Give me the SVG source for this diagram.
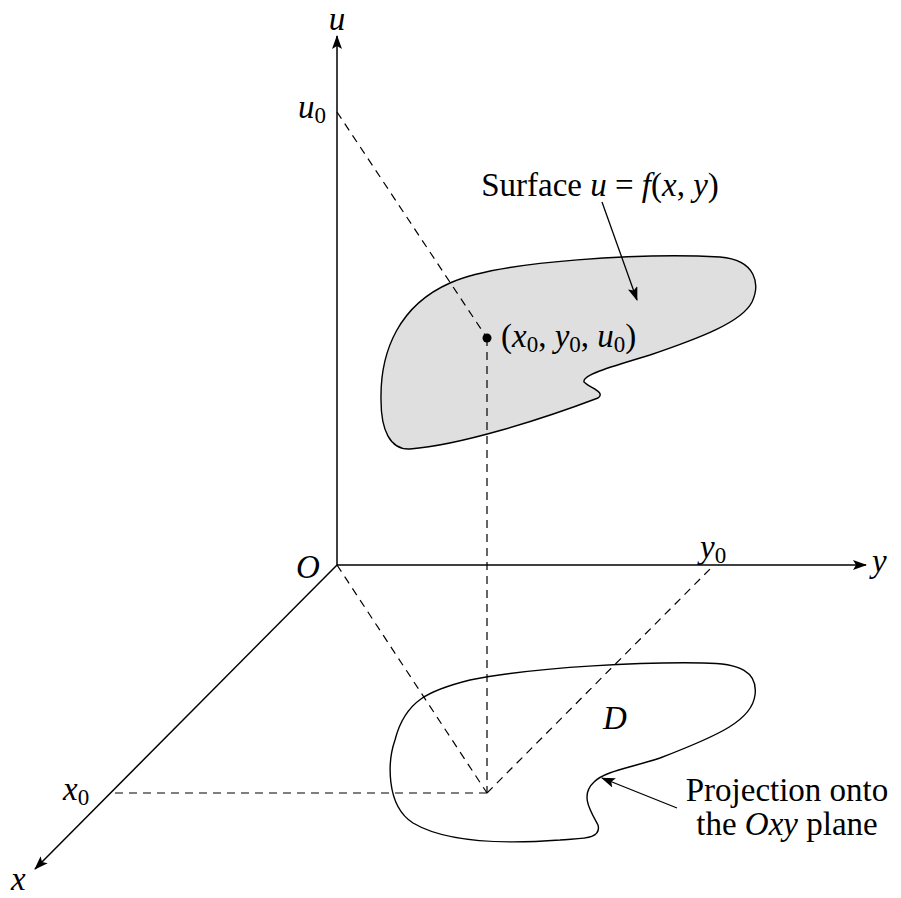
<svg xmlns="http://www.w3.org/2000/svg" width="901" height="898" viewBox="0 0 901 898">
<style>
text{font-family:"Liberation Serif","DejaVu Serif",serif;font-size:33px;fill:#000}
.m{font-style:italic}
.s{font-size:23px;font-style:normal}
.ax{stroke:#000;stroke-width:1.5;fill:none}
.ds{stroke:#000;stroke-width:1.2;fill:none;stroke-dasharray:8 6}
.ln{stroke:#000;stroke-width:1.3;fill:none}
.shape{stroke:#000;stroke-width:1.4}
</style>
<defs>
<marker id="ah" viewBox="0 0 14 10" refX="13" refY="5" markerWidth="14" markerHeight="10" markerUnits="userSpaceOnUse" orient="auto">
<path d="M0,0 L14,5 L0,10 L3,5 Z" fill="#000"/>
</marker>
</defs>
<rect width="901" height="898" fill="#fff"/>
<g id="surface">
<path class="shape" fill="#dfdfdf" d="M410 449 C460 445 540 420 598 398 C606 392 590 388 584 382 C582 375 610 367 650 355 C700 338 742 322 752 302 C760 285 757 260 720 257 C650 253 500 260 450 283 C400 305 380 350 381 400 C381 430 390 450 410 449 Z"/>
</g>
<g id="region-D">
<path class="shape" fill="none" d="M703 663 C740 663 758 672 755 695 C752 720 720 735 660 758 C630 768 605 771 594 782 C580 795 590 810 598 825 C602 840 580 838 560 840 C520 843 450 845 413 823 C385 805 388 760 395 740 C405 700 430 690 470 680 C540 666 650 662 703 663 Z"/>
</g>
<g id="connectors">
<line class="ax" x1="337" y1="565" x2="337" y2="36" marker-end="url(#ah)"/>
<line class="ax" x1="337" y1="565" x2="866" y2="565" marker-end="url(#ah)"/>
<line class="ax" x1="337" y1="565" x2="35" y2="869" marker-end="url(#ah)"/>
<line class="ds" x1="337" y1="112" x2="487" y2="338"/>
<line class="ds" x1="487" y1="338" x2="487" y2="793"/>
<line class="ds" x1="487" y1="793" x2="110" y2="793"/>
<line class="ds" x1="337" y1="565" x2="487" y2="793"/>
<line class="ds" x1="487" y1="793" x2="714" y2="565"/>
<line class="ln" x1="602" y1="202" x2="637" y2="300" marker-end="url(#ah)"/>
<line class="ln" x1="677" y1="808" x2="602" y2="778" marker-end="url(#ah)"/>
</g>
<g id="point">
<circle cx="487" cy="338" r="4.5" fill="#000"/>
<text x="501" y="347">(<tspan class="m">x</tspan><tspan class="s" dy="5">0</tspan><tspan dy="-5">, </tspan><tspan class="m">y</tspan><tspan class="s" dy="5">0</tspan><tspan dy="-5">, </tspan><tspan class="m">u</tspan><tspan class="s" dy="5">0</tspan><tspan dy="-5">)</tspan></text>
</g>
<g id="labels">
<text class="m" x="337" y="30" text-anchor="middle">u</text>
<text x="298" y="118"><tspan class="m">u</tspan><tspan class="s" dy="5">0</tspan></text>
<text class="m" x="296" y="578">O</text>
<text x="700" y="558"><tspan class="m">y</tspan><tspan class="s" dy="5">0</tspan></text>
<text class="m" x="872" y="572">y</text>
<text x="63" y="800"><tspan class="m">x</tspan><tspan class="s" dy="5">0</tspan></text>
<text class="m" x="11" y="890">x</text>
<text class="m" x="603" y="729">D</text>
</g>
<g id="surface-label">
<text x="600" y="196" text-anchor="middle">Surface <tspan class="m">u</tspan>&#160;=&#160;<tspan class="m">f</tspan>(<tspan class="m">x</tspan>,&#160;<tspan class="m">y</tspan>)</text>
</g>
<g id="projection-label">
<text x="787" y="801" text-anchor="middle">Projection onto</text>
<text x="787" y="835" text-anchor="middle">the <tspan class="m">Oxy</tspan> plane</text>
</g>
</svg>
